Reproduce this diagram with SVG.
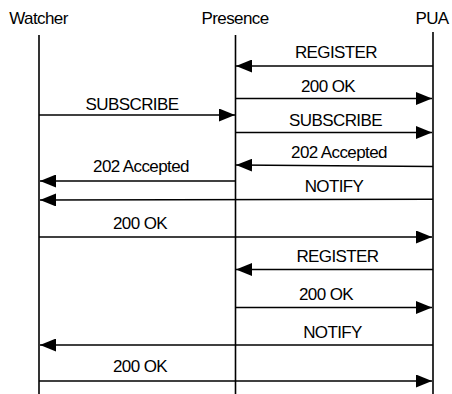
<svg xmlns="http://www.w3.org/2000/svg" width="452" height="394" viewBox="0 0 452 394">
  <style>
    .lbl { font-family: "Liberation Sans", Arial, sans-serif; font-size: 17px; fill: #000; text-anchor: middle; letter-spacing: -0.6px; }
    .life { stroke: #000; stroke-width: 1.6; fill: none; }
    .msg { stroke: #000; stroke-width: 1.5; fill: none; marker-end: url(#head); }
  </style>
  <defs>
    <marker id="head" markerUnits="userSpaceOnUse" markerWidth="17" markerHeight="13" refX="16" refY="6.5" orient="auto">
      <path d="M0,0 L16,6.5 L0,13 Z" fill="#000"/>
    </marker>
  </defs>
  <rect width="452" height="394" fill="#fff"/>

  <!-- participants with their lifelines -->
  <g id="watcher">
    <text class="lbl" x="38.5" y="24">Watcher</text>
    <line class="life" x1="39" y1="35" x2="39" y2="394"/>
  </g>
  <g id="presence">
    <text class="lbl" x="235" y="24">Presence</text>
    <line class="life" x1="235.5" y1="35" x2="235.5" y2="394"/>
  </g>
  <g id="pua">
    <text class="lbl" x="432" y="24">PUA</text>
    <line class="life" x1="433" y1="32" x2="433" y2="394"/>
  </g>

  <!-- messages -->
  <g id="connectors">
    <line class="msg" x1="433" y1="66" x2="236" y2="66"/>
    <text class="lbl" x="336" y="58">REGISTER</text>

    <line class="msg" x1="236" y1="98.5" x2="432" y2="98.5"/>
    <text class="lbl" x="328" y="92">200 OK</text>

    <line class="msg" x1="39" y1="115" x2="235" y2="115"/>
    <text class="lbl" x="132" y="110">SUBSCRIBE</text>

    <line class="msg" x1="236" y1="132.5" x2="432" y2="132.5"/>
    <text class="lbl" x="335.5" y="126">SUBSCRIBE</text>

    <line class="msg" x1="433" y1="166.5" x2="236" y2="165"/>
    <text class="lbl" x="339" y="157.5">202 Accepted</text>

    <line class="msg" x1="235.5" y1="181" x2="40" y2="181"/>
    <text class="lbl" x="141" y="172">202 Accepted</text>

    <line class="msg" x1="433" y1="199.3" x2="40" y2="200"/>
    <text class="lbl" x="334" y="191.7">NOTIFY</text>

    <line class="msg" x1="39" y1="237" x2="432" y2="237"/>
    <text class="lbl" x="140" y="228.5">200 OK</text>

    <line class="msg" x1="433" y1="269.5" x2="236" y2="269.5"/>
    <text class="lbl" x="337.5" y="261.7">REGISTER</text>

    <line class="msg" x1="236" y1="307.5" x2="432" y2="307.5"/>
    <text class="lbl" x="326" y="300">200 OK</text>

    <line class="msg" x1="433" y1="345" x2="40" y2="345"/>
    <text class="lbl" x="332.5" y="337.7">NOTIFY</text>

    <line class="msg" x1="39" y1="381" x2="432" y2="381"/>
    <text class="lbl" x="140" y="371.7">200 OK</text>
  </g>
</svg>
